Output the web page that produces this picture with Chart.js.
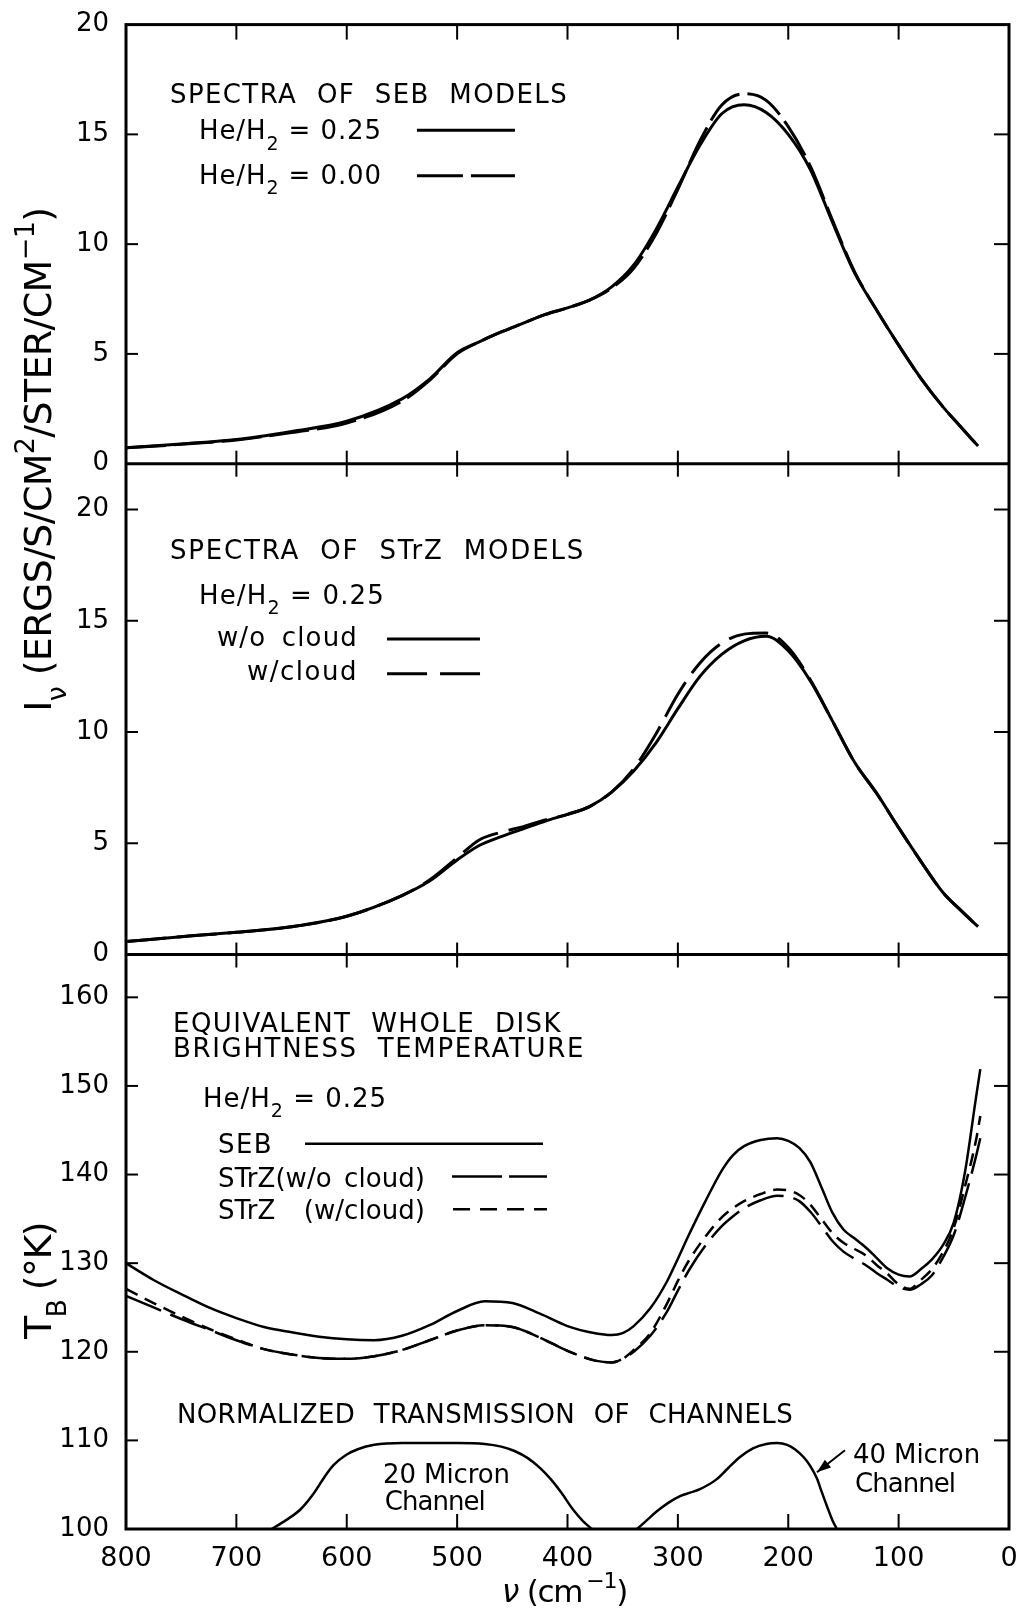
<!DOCTYPE html>
<html>
<head>
<meta charset="utf-8">
<script src="https://cdn.jsdelivr.net/npm/chart.js@4.4.1/dist/chart.umd.min.js"></script>
<style>
  html, body { margin: 0; padding: 0; background: #fff; }
  canvas { display: block; }
</style>
</head>
<body>
<canvas id="chart" width="1025" height="1612"></canvas>
<script>
// wavenumber grid (cm-1) shared by the two spectra panels
var nuSpec = [800, 750, 700, 650, 600, 550, 525, 500, 480, 460, 440, 420, 400, 380, 360, 340, 320, 300, 280, 260, 240, 220, 200, 180, 160, 140, 120, 100, 80, 60, 45, 28];

// SEB models, I_nu
var sebHe25 = [0.72, 0.9, 1.1, 1.47, 1.93, 2.95, 3.85, 5.05, 5.55, 6.0, 6.4, 6.8, 7.1, 7.45, 8.05, 9.05, 10.65, 12.6, 14.5, 15.95, 16.35, 16.0, 15.0, 13.4, 11.0, 8.7, 7.0, 5.4, 3.9, 2.6, 1.75, 0.8];
var sebHe00 = [0.72, 0.88, 1.08, 1.42, 1.85, 2.85, 3.8, 5.0, 5.55, 6.0, 6.4, 6.8, 7.1, 7.45, 8.0, 8.9, 10.45, 12.5, 14.7, 16.35, 16.85, 16.55, 15.35, 13.55, 11.1, 8.75, 7.0, 5.4, 3.9, 2.6, 1.75, 0.8];

// STrZ models, He/H2 = 0.25
var strzClear = [0.58, 0.8, 1.0, 1.25, 1.72, 2.65, 3.3, 4.25, 4.9, 5.3, 5.65, 6.0, 6.3, 6.65, 7.3, 8.25, 9.5, 11.05, 12.5, 13.5, 14.1, 14.3, 13.65, 12.3, 10.5, 8.65, 7.25, 5.7, 4.2, 2.8, 2.05, 1.25];
var strzCloud = [0.58, 0.8, 1.0, 1.25, 1.72, 2.65, 3.35, 4.35, 5.15, 5.5, 5.75, 6.05, 6.3, 6.65, 7.3, 8.35, 9.9, 11.7, 13.1, 14.0, 14.4, 14.45, 13.8, 12.35, 10.5, 8.65, 7.25, 5.7, 4.2, 2.8, 2.05, 1.25];

// brightness temperature panel
var nuTB = [800, 775, 750, 725, 700, 675, 650, 625, 600, 575, 550, 525, 500, 475, 450, 425, 400, 375, 360, 350, 340, 325, 310, 300, 290, 275, 260, 250, 240, 225, 210, 200, 190, 180, 170, 160, 150, 140, 130, 120, 110, 100, 90, 80, 70, 60, 50, 40, 30, 26];
var tbSEB = [130.0, 128.1, 126.5, 125.0, 123.8, 122.8, 122.2, 121.7, 121.4, 121.3, 121.8, 123.0, 124.6, 125.7, 125.5, 124.3, 122.9, 122.1, 121.9, 122.1, 122.9, 124.9, 127.9, 130.5, 133.2, 137.0, 140.5, 142.2, 143.2, 143.9, 144.1, 143.8, 143.0, 141.4, 138.6, 135.7, 133.8, 132.8, 131.8, 130.6, 129.4, 128.7, 128.5, 129.3, 130.4, 132.0, 134.6, 140.2, 148.6, 151.9];
var tbStrzClear = [126.3, 125.0, 123.7, 122.5, 121.3, 120.3, 119.7, 119.3, 119.2, 119.5, 120.2, 121.3, 122.4, 123.0, 122.8, 121.6, 120.1, 119.0, 118.8, 119.2, 120.0, 121.8, 124.5, 126.9, 129.2, 132.0, 134.2, 135.3, 136.2, 137.1, 137.6, 137.5, 137.0, 135.8, 134.2, 132.5, 131.3, 130.5, 129.8, 128.9, 128.1, 127.3, 127.0, 127.6, 128.6, 130.6, 133.2, 137.3, 142.0, 144.1];
var tbStrzCloud = [127.1, 125.5, 124.0, 122.6, 121.4, 120.3, 119.7, 119.3, 119.2, 119.5, 120.2, 121.3, 122.4, 123.0, 122.8, 121.6, 120.1, 119.0, 118.8, 119.2, 120.2, 122.1, 125.4, 128.0, 130.3, 133.0, 135.2, 136.2, 137.0, 137.8, 138.3, 138.2, 137.7, 136.6, 135.0, 133.4, 132.3, 131.6, 130.9, 129.8, 128.8, 127.6, 127.1, 128.1, 129.3, 131.2, 134.0, 138.6, 143.8, 146.6];

// normalized channel transmission, plotted in the T_B panel units
var nu20 = [668, 655, 642, 630, 620, 612, 600, 590, 575, 550, 500, 475, 460, 448, 436, 425, 415, 405, 395, 386, 378];
var trans20 = [100, 101.0, 102.2, 104.0, 105.9, 107.2, 108.4, 109.0, 109.5, 109.7, 109.7, 109.6, 109.3, 108.8, 108.0, 106.9, 105.6, 104.0, 102.2, 100.9, 100];
var nu40 = [337, 328, 319, 308, 298, 289, 280, 265, 255, 244, 232, 220, 210, 201, 194, 186, 180, 174, 170, 165, 160, 156];
var trans40 = [100, 101.0, 102.0, 103.0, 103.7, 104.1, 104.5, 105.6, 106.8, 108.1, 109.1, 109.6, 109.7, 109.5, 109.0, 108.1, 107.1, 105.7, 104.3, 102.6, 101.0, 100];

// tick values
var nuTicks = [800, 700, 600, 500, 400, 300, 200, 100, 0];
var specTicks = [0, 5, 10, 15, 20];
var tbTicks = [100, 110, 120, 130, 140, 150, 160];

var FONT = '"DejaVu Sans", sans-serif';
var NOTE_SIZE = 26;

function pts(xs, ys) {
    return xs.map(function (x, i) { return { x: x, y: ys[i] }; });
}

function curve(data, axis, width, dash) {
    return {
        data: data,
        yAxisID: axis,
        borderColor: '#000',
        borderWidth: width,
        borderDash: dash || [],
        pointRadius: 0,
        fill: false,
        cubicInterpolationMode: 'monotone'
    };
}

function he(rest) {
    return [['He/H', ''], ['2', 'sub'], [rest, '']];
}

// annotations, placed in data units of their panel
var notes = [
    { axis: 'yTop', x: 760.1, y: 16.42, segs: [['SPECTRA OF SEB MODELS', '']], width: 398, ws: 10 },
    { axis: 'yTop', x: 733.9, y: 14.78, segs: he(' = 0.25'), width: 191, ws: 4 },
    { axis: 'yTop', x: 733.9, y: 12.74, segs: he(' = 0.00'), width: 191, ws: 4 },
    { axis: 'yMid', x: 760.1, y: 17.76, segs: [['SPECTRA OF STrZ MODELS', '']], width: 415, ws: 10 },
    { axis: 'yMid', x: 733.9, y: 15.75, segs: he(' = 0.25'), width: 194, ws: 4 },
    { axis: 'yMid', x: 717.6, y: 13.87, segs: [['w/o cloud', '']], width: 141, ws: 6 },
    { axis: 'yMid', x: 690.4, y: 12.35, segs: [['w/cloud', '']], width: 111, ws: 0 },
    { axis: 'yLow', x: 757.4, y: 156.07, segs: [['EQUIVALENT WHOLE DISK', '']], width: 389, ws: 10 },
    { axis: 'yLow', x: 757.4, y: 153.26, segs: [['BRIGHTNESS TEMPERATURE', '']], width: 412, ws: 10 },
    { axis: 'yLow', x: 730.2, y: 147.64, segs: he(' = 0.25'), width: 192, ws: 4 },
    { axis: 'yLow', x: 716.6, y: 142.47, segs: [['SEB', '']], width: 55, ws: 0 },
    { axis: 'yLow', x: 716.6, y: 138.65, segs: [['STrZ(w/o cloud)', '']], width: 207, ws: 4 },
    { axis: 'yLow', x: 716.6, y: 134.94, segs: [['STrZ (w/cloud)', '']], width: 207, ws: 20 },
    { axis: 'yLow', x: 753.8, y: 111.91, segs: [['NORMALIZED TRANSMISSION OF CHANNELS', '']], width: 616, ws: 10 },
    { axis: 'yLow', x: 567.2, y: 105.17, segs: [['20 Micron', '']], width: 127, ws: 0 },
    { axis: 'yLow', x: 565.5, y: 102.13, segs: [['Channel', '']], width: 100, ws: 0 },
    { axis: 'yLow', x: 141.3, y: 107.42, segs: [['40 Micron', '']], width: 127, ws: 0 },
    { axis: 'yLow', x: 139.5, y: 104.16, segs: [['Channel', '']], width: 100, ws: 0 }
];

// legend line samples
var samples = [
    { axis: 'yTop', x1: 536.4, x2: 447.6, y: 15.19, dash: [], width: 3 },
    { axis: 'yTop', x1: 536.4, x2: 447.6, y: 13.11, dash: [46, 8], width: 3 },
    { axis: 'yMid', x1: 563.5, x2: 479.3, y: 14.18, dash: [], width: 3 },
    { axis: 'yMid', x1: 563.5, x2: 476.6, y: 12.62, dash: [40, 13], width: 3 },
    { axis: 'yLow', x1: 637.8, x2: 422.2, y: 143.48, dash: [], width: 2.5 },
    { axis: 'yLow', x1: 504.6, x2: 418.6, y: 139.78, dash: [50, 7], width: 2.5 },
    { axis: 'yLow', x1: 503.7, x2: 418.6, y: 136.07, dash: [17, 10], width: 2.5 }
];

function segFont(kind, size) {
    var s = (kind === 'sub' || kind === 'sup') ? Math.round(size * 0.72) : size;
    return (kind === 'it' ? 'italic ' : '') + s + 'px ' + FONT;
}

function countSpaces(t) {
    return (t.match(/ /g) || []).length;
}

// draws mixed text (sub/superscripts) stretched to a target width
function drawRich(ctx, segs, x, y, size, width, ws) {
    ws = ws || 0;
    ctx.letterSpacing = '0px';
    ctx.wordSpacing = '0px';
    var natural = 0, chars = 0, spaces = 0, widths = [];
    segs.forEach(function (s) {
        ctx.font = segFont(s[1], size);
        var w = ctx.measureText(s[0]).width;
        widths.push(w);
        natural += w;
        chars += s[0].length;
        spaces += countSpaces(s[0]);
    });
    var ls = width ? (width - natural - spaces * ws) / chars : 0;
    ctx.letterSpacing = ls + 'px';
    ctx.wordSpacing = ws + 'px';
    var cx = x;
    segs.forEach(function (s, i) {
        ctx.font = segFont(s[1], size);
        var dy = s[1] === 'sub' ? size * 0.4 : (s[1] === 'sup' ? -size * 0.45 : 0);
        ctx.fillText(s[0], cx, y + dy);
        cx += widths[i] + ls * s[0].length + ws * countSpaces(s[0]);
    });
    ctx.letterSpacing = '0px';
    ctx.wordSpacing = '0px';
}

function seg(ctx, x1, y1, x2, y2) {
    ctx.beginPath();
    ctx.moveTo(x1, y1);
    ctx.lineTo(x2, y2);
    ctx.stroke();
}

var framePlugin = {
    id: 'frame',
    afterDatasetsDraw: function (chart) {
        var ctx = chart.ctx, a = chart.chartArea, s = chart.scales;
        var xs = s.x;
        ctx.save();
        ctx.strokeStyle = '#000';
        ctx.fillStyle = '#000';
        ctx.setLineDash([]);
        ctx.lineCap = 'butt';

        // box and panel dividers
        ctx.lineWidth = 3;
        ctx.strokeRect(a.left, a.top, a.right - a.left, a.bottom - a.top);
        seg(ctx, a.left, s.yTop.bottom, a.right, s.yTop.bottom);
        seg(ctx, a.left, s.yMid.bottom, a.right, s.yMid.bottom);

        // inward tick marks
        ctx.lineWidth = 2;
        nuTicks.forEach(function (v) {
            var px = xs.getPixelForValue(v);
            if (px <= a.left + 2 || px >= a.right - 2) return;
            seg(ctx, px, a.top, px, a.top + 15);
            seg(ctx, px, s.yTop.bottom - 13, px, s.yTop.bottom + 13);
            seg(ctx, px, s.yMid.bottom - 12, px, s.yMid.bottom + 13);
            seg(ctx, px, a.bottom - 15, px, a.bottom);
        });
        [[s.yTop, specTicks], [s.yMid, specTicks], [s.yLow, tbTicks]].forEach(function (p) {
            var sc = p[0];
            p[1].forEach(function (v) {
                var py = sc.getPixelForValue(v);
                if (py <= sc.top + 2 || py >= sc.bottom - 2) return;
                seg(ctx, a.left, py, a.left + 12, py);
                seg(ctx, a.right - 15, py, a.right, py);
            });
        });

        // legend samples
        samples.forEach(function (m) {
            var sc = s[m.axis];
            ctx.lineWidth = m.width;
            ctx.setLineDash(m.dash);
            var py = sc.getPixelForValue(m.y);
            seg(ctx, xs.getPixelForValue(m.x1), py, xs.getPixelForValue(m.x2), py);
        });
        ctx.setLineDash([]);

        // annotations
        ctx.textAlign = 'left';
        ctx.textBaseline = 'alphabetic';
        notes.forEach(function (n) {
            drawRich(ctx, n.segs, xs.getPixelForValue(n.x), s[n.axis].getPixelForValue(n.y), NOTE_SIZE, n.width, n.ws);
        });

        // arrow to the 40 micron channel
        var ax1 = xs.getPixelForValue(148.6), ay1 = s.yLow.getPixelForValue(108.88);
        var ax2 = xs.getPixelForValue(174.0), ay2 = s.yLow.getPixelForValue(106.4);
        ctx.lineWidth = 2;
        seg(ctx, ax1, ay1, ax2, ay2);
        var ang = Math.atan2(ay2 - ay1, ax2 - ax1);
        ctx.beginPath();
        ctx.moveTo(ax2, ay2);
        ctx.lineTo(ax2 - 14 * Math.cos(ang) + 5 * Math.sin(ang), ay2 - 14 * Math.sin(ang) - 5 * Math.cos(ang));
        ctx.lineTo(ax2 - 14 * Math.cos(ang) - 5 * Math.sin(ang), ay2 - 14 * Math.sin(ang) + 5 * Math.cos(ang));
        ctx.closePath();
        ctx.fill();

        // axis titles
        var titleSize = 38;
        var tx = 37 + titleSize * 0.36;
        ctx.save();
        ctx.translate(tx, s.yTop.bottom - 4);
        ctx.rotate(-Math.PI / 2);
        drawRich(ctx, [['I', ''], ['\u03bd', 'sub'], [' (ERGS/S/CM', ''], ['2', 'sup'], ['/STER/CM', ''], ['\u22121', 'sup'], [')', '']], -252, 0, titleSize, 504, 0);
        ctx.restore();

        ctx.save();
        ctx.translate(tx, s.yLow.getPixelForValue(128.2));
        ctx.rotate(-Math.PI / 2);
        drawRich(ctx, [['T', ''], ['B', 'sub'], [' (\u00b0K)', '']], -60, 0, titleSize, 120, 4);
        ctx.restore();

        drawRich(ctx, [['\u03bd', 'it'], [' (cm', ''], ['\u22121', 'sup'], [')', '']], 502, 1602, 31, 125, 4);

        ctx.restore();
    }
};

function yAxis(min, max, weight, stackWeight, ticks) {
    return {
        type: 'linear',
        position: 'left',
        stack: 'panels',
        stackWeight: stackWeight,
        weight: weight,
        min: min,
        max: max,
        afterBuildTicks: function (scale) {
            scale.ticks = ticks.map(function (v) { return { value: v }; });
        },
        afterFit: function (scale) { scale.width = 126; },
        grid: { display: false },
        border: { display: false },
        ticks: { color: '#000', font: { family: FONT, size: 26 }, padding: 9 }
    };
}

new Chart(document.getElementById('chart'), {
    type: 'line',
    data: {
        datasets: [
            curve(pts(nuSpec, sebHe25), 'yTop', 3),
            curve(pts(nuSpec, sebHe00), 'yTop', 3, [40, 8]),
            curve(pts(nuSpec, strzClear), 'yMid', 3),
            curve(pts(nuSpec, strzCloud), 'yMid', 3, [40, 11]),
            curve(pts(nuTB, tbSEB), 'yLow', 2.5),
            curve(pts(nuTB, tbStrzClear), 'yLow', 2.5, [38, 10]),
            curve(pts(nuTB, tbStrzCloud), 'yLow', 2.5, [13, 8]),
            curve(pts(nu20, trans20), 'yLow', 2.5),
            curve(pts(nu40, trans40), 'yLow', 2.5)
        ]
    },
    options: {
        responsive: false,
        animation: false,
        events: [],
        layout: { padding: { top: 18, right: 16, bottom: 0, left: 0 } },
        plugins: {
            legend: { display: false },
            tooltip: { enabled: false }
        },
        scales: {
            x: {
                type: 'linear',
                position: 'bottom',
                reverse: true,
                min: 0,
                max: 800,
                afterBuildTicks: function (scale) {
                    scale.ticks = nuTicks.map(function (v) { return { value: v }; });
                },
                afterFit: function (scale) { scale.height = 83; },
                grid: { display: false },
                border: { display: false },
                ticks: { color: '#000', font: { family: FONT, size: 27 }, padding: 6, maxRotation: 0, autoSkip: false }
            },
            yLow: yAxis(100, 164.83, 1, 577, tbTicks),
            yMid: yAxis(0, 22.06, 2, 493, specTicks),
            yTop: yAxis(0, 20, 3, 441, specTicks)
        }
    },
    plugins: [framePlugin]
});
</script>
</body>
</html>
